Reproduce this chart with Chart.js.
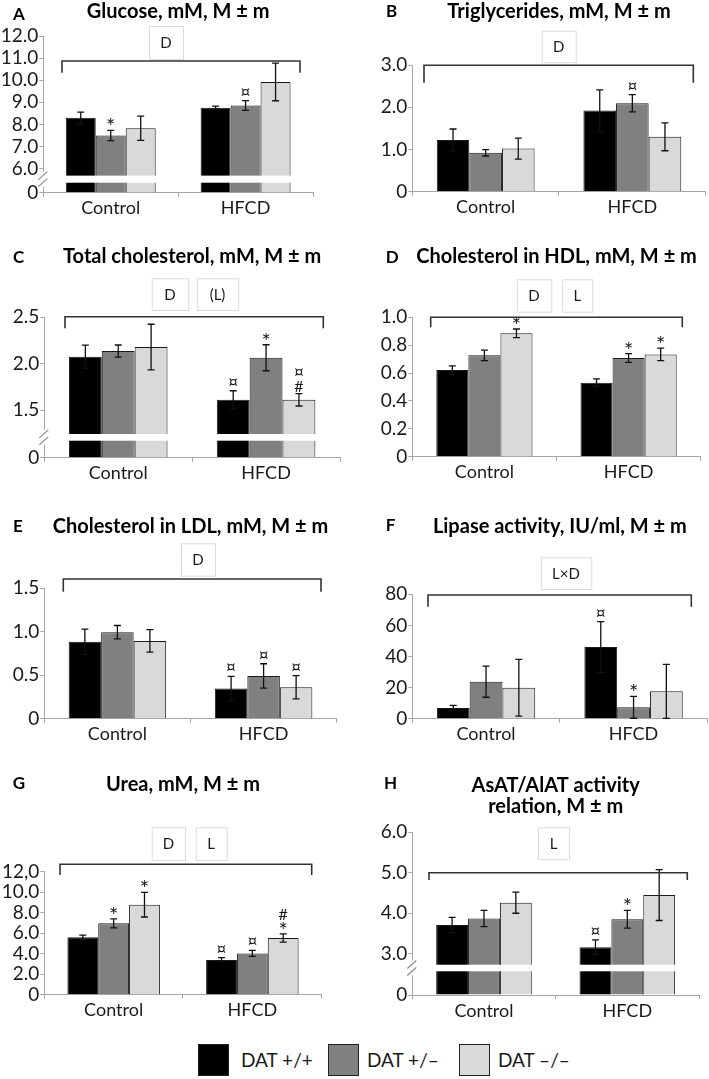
<!DOCTYPE html>
<html>
<head>
<meta charset="utf-8">
<script src="https://cdn.jsdelivr.net/npm/chart.js@4.4.1/dist/chart.umd.min.js"></script>
<style>
  body { margin: 0; background: #fff; font-family: Lato, sans-serif; }
  #page { position: relative; width: 709px; height: 1079px; overflow: hidden; }
  canvas { position: absolute; }
  .key { position: absolute; top: 1044px; width: 31px; height: 32px; box-sizing: border-box; border: 1px solid #222; }
  .keyText { position: absolute; top: 1049px; font-size: 19px; color: #1a1a1a; line-height: 22px; }
</style>
</head>
<body>
<div id="page">
  <canvas id="chartA"></canvas>
  <canvas id="chartB"></canvas>
  <canvas id="chartC"></canvas>
  <canvas id="chartD"></canvas>
  <canvas id="chartE"></canvas>
  <canvas id="chartF"></canvas>
  <canvas id="chartG"></canvas>
  <canvas id="chartH"></canvas>
  <div class="key" style="left:198px;background:#000"></div>
  <div class="keyText" style="left:241px">DAT +/+</div>
  <div class="key" style="left:328px;background:#808080"></div>
  <div class="keyText" style="left:367px">DAT +/–</div>
  <div class="key" style="left:459px;background:#d9d9d9"></div>
  <div class="keyText" style="left:498px">DAT –/–</div>
</div>
<script>
// groups on the x axis and the three genotypes (one dataset each)
const groups = ['Control', 'HFCD'];
const genotypes = ['DAT +/+', 'DAT +/–', 'DAT –/–'];
const barColors = ['#000000', '#808080', '#d9d9d9'];

// each array: [genotype][group]  (DAT +/+, DAT +/-, DAT -/-) x (Control, HFCD)
const glucoseMean = [[8.30, 8.76], [7.50, 8.86], [7.83, 9.92]];
const glucoseErr  = [[0.26, 0.07], [0.23, 0.22], [0.55, 0.85]];
const glucoseMarks = [['', ''], ['*', '¤'], ['', '']];
const glucoseTicks = [0, 6, 7, 8, 9, 10, 11, 12];
const glucoseTickLabels = ['0', '6.0', '7.0', '8.0', '9.0', '10.0', '11.0', '12.0'];

const tgMean = [[1.225, 1.92], [0.92, 2.095], [1.02, 1.30]];
const tgErr  = [[0.26, 0.49], [0.075, 0.205], [0.25, 0.33]];
const tgMarks = [['', ''], ['', '¤'], ['', '']];
const tgTicks = [0, 1, 2, 3];
const tgTickLabels = ['0', '1.0', '2.0', '3.0'];

const cholMean = [[2.075, 1.613], [2.137, 2.065], [2.18, 1.613]];
const cholErr  = [[0.125, 0.097], [0.065, 0.14], [0.245, 0.067]];
const cholMarks = [['', '¤'], ['', '*'], ['', '¤\n#']];
const cholTicks = [0, 1.5, 2.0, 2.5];
const cholTickLabels = ['0', '1.5', '2.0', '2.5'];

const hdlMean = [[0.622, 0.531], [0.727, 0.708], [0.885, 0.734]];
const hdlErr  = [[0.03, 0.027], [0.038, 0.031], [0.031, 0.045]];
const hdlMarks = [['', ''], ['', '*'], ['*', '*']];
const hdlTicks = [0, 0.2, 0.4, 0.6, 0.8, 1.0];
const hdlTickLabels = ['0', '0.2', '0.4', '0.6', '0.8', '1.0'];

const ldlMean = [[0.884, 0.346], [0.995, 0.492], [0.895, 0.362]];
const ldlErr  = [[0.146, 0.142], [0.077, 0.14], [0.13, 0.133]];
const ldlMarks = [['', '¤'], ['', '¤'], ['', '¤']];
const ldlTicks = [0, 0.5, 1.0, 1.5];
const ldlTickLabels = ['0', '0.5', '1.0', '1.5'];

const lipaseMean = [[6.9, 46.1], [23.8, 7.3], [19.9, 17.6]];
const lipaseErr  = [[1.7, 16.3], [10.0, 7.0], [18.2, 17.4]];
const lipaseMarks = [['', '¤'], ['', '*'], ['', '']];
const lipaseTicks = [0, 20, 40, 60, 80];
const lipaseTickLabels = ['0', '20', '40', '60', '80'];

const ureaMean = [[5.6, 3.39], [6.96, 4.03], [8.78, 5.53]];
const ureaErr  = [[0.22, 0.22], [0.44, 0.3], [1.2, 0.4]];
const ureaMarks = [['', '¤'], ['*', '¤'], ['*', '#\n*']];
const ureaTicks = [0, 2, 4, 6, 8, 10, 12];
const ureaTickLabels = ['0', '2.0', '4.0', '6.0', '8.0', '10.0', '12,0'];

const astMean = [[3.71, 3.16], [3.87, 3.85], [4.26, 4.45]];
const astErr  = [[0.19, 0.18], [0.2, 0.22], [0.26, 0.63]];
const astMarks = [['', '¤'], ['', '*'], ['', '']];
const astTicks = [0, 3, 4, 5, 6];
const astTickLabels = ['0', '3.0', '4.0', '5.0', '6.0'];

const axisGray = '#a6a6a6';
const inkColor = '#1a1a1a';

Chart.defaults.font.family = 'Lato, sans-serif';
Chart.defaults.color = inkColor;
Chart.defaults.animation = false;

// linear scale with a gap between 0 and the first shown tick
class BrokenLinearScale extends Chart.LinearScale {
    getPixelForValue(value) {
        const brk = this.options.brk;
        if (!brk) return super.getPixelForValue(value);
        const low = this.bottom - brk.lowerPx;
        if (value <= brk.at) return this.bottom - (value / brk.at) * brk.lowerPx;
        return low - (value - brk.at) / (this.max - brk.at) * (low - this.top);
    }
    getValueForPixel(pixel) {
        const brk = this.options.brk;
        if (!brk) return super.getValueForPixel(pixel);
        const low = this.bottom - brk.lowerPx;
        if (pixel >= low) return (this.bottom - pixel) / brk.lowerPx * brk.at;
        return brk.at + (low - pixel) / (low - this.top) * (this.max - brk.at);
    }
}
BrokenLinearScale.id = 'brokenLinear';
BrokenLinearScale.defaults = Chart.LinearScale.defaults;
Chart.register(BrokenLinearScale);

// font size and baseline lift for each significance sign
const markStyle = {
    '*': { size: 22, lift: -4 },
    '¤': { size: 18, lift: 3 },
    '#': { size: 16, lift: 1.5 }
};

// draws error bars, significance marks, the axis break, bracket, boxes and panel letter
function decorPlugin(p) {
    return {
        id: 'decor' + p.letter,
        afterDatasetsDraw(chart) {
            const ctx = chart.ctx;
            const yScale = chart.scales.y;
            const area = chart.chartArea;
            ctx.save();

            if (p.brk) {
                const top = yScale.getPixelForValue(p.brk.at + p.brk.gap);
                const bot = yScale.getPixelForValue(p.brk.at);
                ctx.fillStyle = '#fff';
                ctx.fillRect(area.left + 1, top, area.right - area.left, bot - top);
                ctx.fillRect(area.left - 2, top - 4, 4, bot - top + 8);
                ctx.strokeStyle = '#8c8c8c';
                ctx.lineWidth = 1.2;
                const yc = (top + bot) / 2;
                [-3.5, 3.5].forEach(dy => {
                    ctx.beginPath();
                    ctx.moveTo(area.left - 5, yc + dy + 4);
                    ctx.lineTo(area.left + 4, yc + dy - 4);
                    ctx.stroke();
                });
            }

            // error bars
            ctx.strokeStyle = '#111';
            ctx.lineWidth = 1.3;
            chart.data.datasets.forEach((ds, d) => {
                chart.getDatasetMeta(d).data.forEach((bar, i) => {
                    const v = ds.data[i], e = p.err[d][i];
                    const yTop = yScale.getPixelForValue(v + e);
                    const yBot = yScale.getPixelForValue(Math.max(v - e, 0));
                    ctx.beginPath();
                    ctx.moveTo(bar.x, yTop); ctx.lineTo(bar.x, yBot);
                    ctx.moveTo(bar.x - 3.5, yTop); ctx.lineTo(bar.x + 3.5, yTop);
                    ctx.moveTo(bar.x - 3.5, yBot); ctx.lineTo(bar.x + 3.5, yBot);
                    ctx.stroke();

                    const mark = p.marks[d][i];
                    if (!mark) return;
                    ctx.fillStyle = inkColor;
                    ctx.textAlign = 'center';
                    ctx.textBaseline = 'alphabetic';
                    const lines = mark.split('\n');
                    let y = yTop;
                    for (let k = lines.length - 1; k >= 0; k--) {
                        const s = lines[k];
                        const st = markStyle[s];
                        ctx.font = st.size + 'px Lato, sans-serif';
                        ctx.fillText(s, bar.x, y - st.lift);
                        y -= 12.5;
                    }
                });
            });
            ctx.restore();
        },
        afterDraw(chart) {
            const ctx = chart.ctx;
            ctx.save();
            // bracket over both groups
            const b = p.bracket;
            ctx.strokeStyle = '#333';
            ctx.lineWidth = 1.6;
            ctx.beginPath();
            ctx.moveTo(b.x1, b.yb); ctx.lineTo(b.x1, b.y);
            ctx.lineTo(b.x2, b.y); ctx.lineTo(b.x2, b.yb);
            ctx.stroke();

            // factor boxes
            ctx.font = '15px Lato, sans-serif';
            ctx.textAlign = 'center';
            ctx.textBaseline = 'middle';
            p.boxes.forEach(bx => {
                ctx.fillStyle = '#fff';
                ctx.fillRect(bx.x, bx.y, bx.w, bx.h);
                ctx.strokeStyle = '#dcdcdc';
                ctx.lineWidth = 1;
                ctx.strokeRect(bx.x + 0.5, bx.y + 0.5, bx.w, bx.h);
                ctx.fillStyle = inkColor;
                ctx.fillText(bx.text, bx.x + bx.w / 2, bx.y + bx.h / 2 + 1);
            });

            // panel letter
            ctx.font = 'bold 17px Lato, sans-serif';
            ctx.textAlign = 'left';
            ctx.fillStyle = '#000';
            ctx.fillText(p.letter, p.letterPos.x, p.letterPos.y);
            ctx.restore();
        }
    };
}

function makePanel(id, p) {
    const canvas = document.getElementById(id);
    canvas.width = p.box.w;
    canvas.height = p.box.h;
    canvas.style.left = p.box.left + 'px';
    canvas.style.top = p.box.top + 'px';

    const titleLines = Array.isArray(p.title) ? p.title.length : 1;
    const lineH = p.titleLineH || 24;
    const a = p.area;

    new Chart(canvas, {
        type: 'bar',
        data: {
            labels: groups,
            datasets: genotypes.map((g, d) => ({
                label: g,
                data: p.mean[d],
                backgroundColor: barColors[d],
                borderColor: inkColor,
                borderWidth: 1,
                categoryPercentage: 0.667,
                barPercentage: 1
            }))
        },
        options: {
            responsive: false,
            devicePixelRatio: 1,
            layout: { padding: { left: 0, top: 0, right: p.box.w - a.r, bottom: p.box.h - a.b - 30 } },
            plugins: {
                legend: { display: false },
                tooltip: { enabled: false },
                title: {
                    display: true,
                    text: p.title,
                    fullSize: false,
                    color: '#000',
                    font: { size: 20, weight: 'bold', lineHeight: lineH / 20 },
                    padding: { top: p.titleTop, bottom: a.t - p.titleTop - titleLines * lineH }
                }
            },
            scales: {
                x: {
                    afterFit: s => { s.height = 30; },
                    ticks: { font: { size: 18 }, padding: 1, color: inkColor },
                    grid: { offset: true, drawOnChartArea: false, tickLength: 4, color: axisGray },
                    border: { color: axisGray }
                },
                y: {
                    type: p.brk ? 'brokenLinear' : 'linear',
                    brk: p.brk,
                    min: 0,
                    max: p.ticks[p.ticks.length - 1],
                    afterBuildTicks: s => { s.ticks = p.ticks.map(v => ({ value: v })); },
                    afterFit: s => { s.width = a.l; },
                    ticks: { callback: (v, i) => p.tickLabels[i], font: { size: 19 }, padding: 1, color: inkColor, autoSkip: false },
                    grid: { drawOnChartArea: false, tickLength: 4, color: axisGray },
                    border: { color: axisGray }
                }
            }
        },
        plugins: [decorPlugin(p)]
    });
}

makePanel('chartA', {
    letter: 'A', letterPos: { x: 13, y: 15 },
    title: 'Glucose, mM, M ± m', titleTop: 0,
    box: { left: 0, top: 0, w: 354, h: 240 },
    area: { l: 43.3, r: 313, t: 36, b: 192.7 },
    mean: glucoseMean, err: glucoseErr, marks: glucoseMarks,
    ticks: glucoseTicks, tickLabels: glucoseTickLabels,
    brk: { at: 5.364, lowerPx: 10, gap: 0.32 },
    bracket: { x1: 62, x2: 300, y: 61, yb: 72.7 },
    boxes: [{ text: 'D', x: 149, y: 26, w: 34, h: 33 }]
});

makePanel('chartB', {
    letter: 'B', letterPos: { x: 32, y: 12 },
    title: 'Triglycerides, mM, M ± m', titleTop: 0,
    box: { left: 354, top: 0, w: 355, h: 240 },
    area: { l: 58.3, r: 351.7, t: 65, b: 191.7 },
    mean: tgMean, err: tgErr, marks: tgMarks,
    ticks: tgTicks, tickLabels: tgTickLabels,
    bracket: { x1: 70, x2: 339.3, y: 65.3, yb: 82.7 },
    boxes: [{ text: 'D', x: 187.7, y: 30.7, w: 34, h: 31.6 }]
});

makePanel('chartC', {
    letter: 'C', letterPos: { x: 13, y: 28 },
    title: 'Total cholesterol, mM, M ± m', titleTop: 14.5,
    box: { left: 0, top: 230, w: 354, h: 260 },
    area: { l: 44.3, r: 340, t: 87.3, b: 227.7 },
    mean: cholMean, err: cholErr, marks: cholMarks,
    ticks: cholTicks, tickLabels: cholTickLabels,
    brk: { at: 1.173, lowerPx: 17, gap: 0.072 },
    bracket: { x1: 65, x2: 323.3, y: 86.7, yb: 98.3 },
    boxes: [{ text: 'D', x: 151.7, y: 48.3, w: 36.6, h: 31.7 }, { text: '(L)', x: 196.7, y: 48.3, w: 41.6, h: 31.7 }]
});

makePanel('chartD', {
    letter: 'D', letterPos: { x: 31.7, y: 28 },
    title: 'Cholesterol in HDL, mM, M ± m', titleTop: 14.5,
    box: { left: 354, top: 230, w: 355, h: 260 },
    area: { l: 58.3, r: 346.7, t: 87.3, b: 226.7 },
    mean: hdlMean, err: hdlErr, marks: hdlMarks,
    ticks: hdlTicks, tickLabels: hdlTickLabels,
    bracket: { x1: 76.7, x2: 328.3, y: 87.3, yb: 97.3 },
    boxes: [{ text: 'D', x: 162.7, y: 49.3, w: 34.6, h: 32.4 }, { text: 'L', x: 208.3, y: 49.3, w: 30, h: 32.4 }]
});

makePanel('chartE', {
    letter: 'E', letterPos: { x: 13, y: 47 },
    title: 'Cholesterol in LDL, mM, M ± m', titleTop: 34.3,
    box: { left: 0, top: 480, w: 354, h: 270 },
    area: { l: 44.3, r: 336.7, t: 108.3, b: 238.7 },
    mean: ldlMean, err: ldlErr, marks: ldlMarks,
    ticks: ldlTicks, tickLabels: ldlTickLabels,
    bracket: { x1: 63.3, x2: 321, y: 99, yb: 111.7 },
    boxes: [{ text: 'D', x: 181, y: 63.3, w: 34, h: 32.4 }]
});

makePanel('chartF', {
    letter: 'F', letterPos: { x: 31.7, y: 46 },
    title: 'Lipase activity, IU/ml, M ± m', titleTop: 34.2,
    box: { left: 354, top: 480, w: 355, h: 270 },
    area: { l: 58.3, r: 353.3, t: 114.3, b: 238.7 },
    mean: lipaseMean, err: lipaseErr, marks: lipaseMarks,
    ticks: lipaseTicks, tickLabels: lipaseTickLabels,
    bracket: { x1: 74, x2: 337.3, y: 115, yb: 126.7 },
    boxes: [{ text: 'L×D', x: 186.7, y: 77.3, w: 50.6, h: 31.7 }]
});

makePanel('chartG', {
    letter: 'G', letterPos: { x: 12.7, y: 44 },
    title: 'Urea, mM, M ± m', titleTop: 32.3,
    box: { left: 0, top: 740, w: 354, h: 290 },
    area: { l: 44.3, r: 321.7, t: 131.7, b: 254.7 },
    mean: ureaMean, err: ureaErr, marks: ureaMarks,
    ticks: ureaTicks, tickLabels: ureaTickLabels,
    bracket: { x1: 60, x2: 311.7, y: 124.3, yb: 135 },
    boxes: [{ text: 'D', x: 151.7, y: 87.3, w: 33.3, h: 32.7 }, { text: 'L', x: 195.7, y: 87.3, w: 31, h: 32.7 }]
});

makePanel('chartH', {
    letter: 'H', letterPos: { x: 30, y: 44 },
    title: ['AsAT/AlAT activity', 'relation, M ± m'], titleTop: 35.5, titleLineH: 21,
    box: { left: 354, top: 740, w: 355, h: 290 },
    area: { l: 58.3, r: 345, t: 92.3, b: 255 },
    mean: astMean, err: astErr, marks: astMarks,
    ticks: astTicks, tickLabels: astTickLabels,
    brk: { at: 2.565, lowerPx: 23.7, gap: 0.163 },
    bracket: { x1: 75, x2: 333.3, y: 132.7, yb: 140 },
    boxes: [{ text: 'L', x: 184, y: 87.3, w: 31, h: 32 }]
});
</script>
</body>
</html>
